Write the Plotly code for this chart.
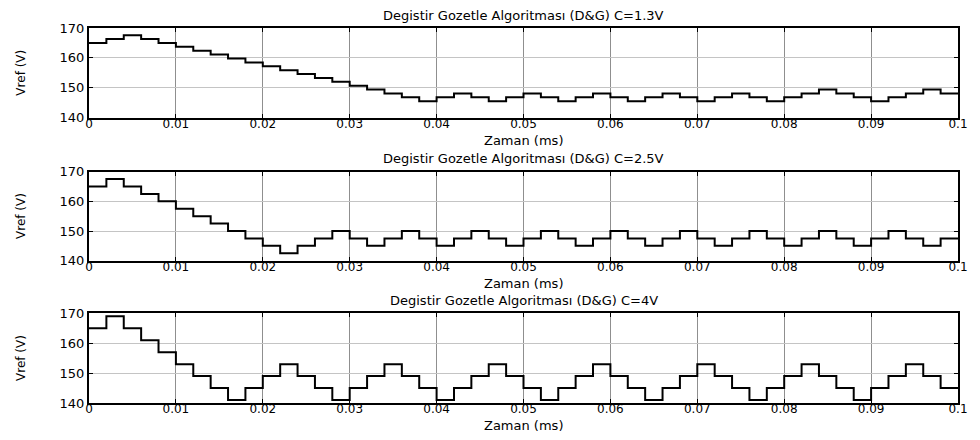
import plotly.graph_objects as go

# ---- data ----
step_ms = 0.002
t_edges = [round(i * step_ms, 3) for i in range(51)]  # 0 .. 0.1 ms

vref_c13 = [165, 166.3, 167.6, 166.3, 165, 163.7, 162.4, 161.1, 159.8, 158.5,
            157.2, 155.9, 154.6, 153.3, 152.0, 150.7, 149.4, 148.1, 146.8, 145.5,
            146.8, 148.1, 146.8, 145.5, 146.8, 148.1, 146.8, 145.5, 146.8, 148.1,
            146.8, 145.5, 146.8, 148.1, 146.8, 145.5, 146.8, 148.1, 146.8, 145.5,
            146.8, 148.1, 149.4, 148.1, 146.8, 145.5, 146.8, 148.1, 149.4, 148.1]

vref_c25 = [165, 167.5, 165, 162.5, 160, 157.5, 155, 152.5, 150, 147.5,
            145, 142.5, 145, 147.5, 150, 147.5, 145, 147.5, 150, 147.5,
            145, 147.5, 150, 147.5, 145, 147.5, 150, 147.5, 145, 147.5,
            150, 147.5, 145, 147.5, 150, 147.5, 145, 147.5, 150, 147.5,
            145, 147.5, 150, 147.5, 145, 147.5, 150, 147.5, 145, 147.5]

vref_c4 = [165, 169, 165, 161, 157, 153, 149, 145, 141, 145,
           149, 153, 149, 145, 141, 145, 149, 153, 149, 145,
           141, 145, 149, 153, 149, 145, 141, 145, 149, 153,
           149, 145, 141, 145, 149, 153, 149, 145, 141, 145,
           149, 153, 149, 145, 141, 145, 149, 153, 149, 145]

titles = ["Degistir Gozetle Algoritması (D&G) C=1.3V",
          "Degistir Gozetle Algoritması (D&G) C=2.5V",
          "Degistir Gozetle Algoritması (D&G) C=4V"]
series = [vref_c13, vref_c25, vref_c4]

x_ticks = [0, 0.01, 0.02, 0.03, 0.04, 0.05, 0.06, 0.07, 0.08, 0.09, 0.1]
x_ticklabels = ["0", "0.01", "0.02", "0.03", "0.04", "0.05", "0.06", "0.07", "0.08", "0.09", "0.1"]
y_ticks = [140, 150, 160, 170]
y_ticklabels = ["140", "150", "160", "170"]
x_label = "Zaman (ms)"
y_label = "Vref (V)"

# ---- layout ----
W, H = 980, 440
ML, MR, MT, MB = 89, 12, 28, 37
ph = H - MT - MB
domains = [[0.7608, 1.0], [0.3795, 0.6168], [0.0, 0.2392]]
FONT = "DejaVu Sans"

fig = go.Figure()
annotations = []
for i, (vals, ttl, dom) in enumerate(zip(series, titles, domains)):
    n = "" if i == 0 else str(i + 1)
    x = list(t_edges)
    y = list(vals) + [vals[-1]]
    fig.add_trace(go.Scatter(x=x, y=y, mode="lines", line=dict(color="black", width=2, shape="hv"),
                             xaxis="x" + n, yaxis="y" + n, showlegend=False, hoverinfo="skip"))
    fig.layout["xaxis" + n] = dict(
        domain=[0, 1], anchor="y" + n, range=[0, 0.1],
        tickvals=x_ticks, ticktext=x_ticklabels,
        ticks="inside", ticklen=4, tickcolor="black", tickwidth=1,
        showline=True, linecolor="black", linewidth=2, mirror="ticks",
        showgrid=True, gridcolor="#8f8f8f", gridwidth=1, zeroline=False,
        tickfont=dict(family=FONT, size=12, color="black"), ticklabelstandoff=-6,
    )
    fig.layout["yaxis" + n] = dict(
        domain=dom, anchor="x" + n, range=[140, 170],
        tickvals=y_ticks, ticktext=y_ticklabels,
        ticks="inside", ticklen=4, tickcolor="black", tickwidth=1,
        showline=True, linecolor="black", linewidth=2, mirror="ticks",
        showgrid=True, gridcolor="#c4c4c4", gridwidth=1, zeroline=False,
        tickfont=dict(family=FONT, size=13, color="black"),
    )
    top_px = MT + (1 - dom[1]) * ph
    bot_px = MT + (1 - dom[0]) * ph
    annotations.append(dict(text=ttl, xref="paper", yref="paper", x=0.5,
                            y=(H - MB - (top_px - 13)) / ph, xanchor="center", yanchor="middle",
                            showarrow=False, font=dict(family=FONT, size=13, color="black")))
    annotations.append(dict(text=x_label, xref="paper", yref="paper", x=0.5,
                            y=(H - MB - (bot_px + 23)) / ph, xanchor="center", yanchor="middle",
                            showarrow=False, font=dict(family=FONT, size=13, color="black")))
    annotations.append(dict(text=y_label, xref="paper", yref="paper",
                            x=(20 - ML) / (W - ML - MR), y=(dom[0] + dom[1]) / 2,
                            xanchor="center", yanchor="middle", textangle=-90,
                            showarrow=False, font=dict(family=FONT, size=12, color="black")))

fig.update_layout(width=W, height=H, margin=dict(l=ML, r=MR, t=MT, b=MB),
                  paper_bgcolor="white", plot_bgcolor="white", annotations=annotations)

fig.write_html("out.html")
